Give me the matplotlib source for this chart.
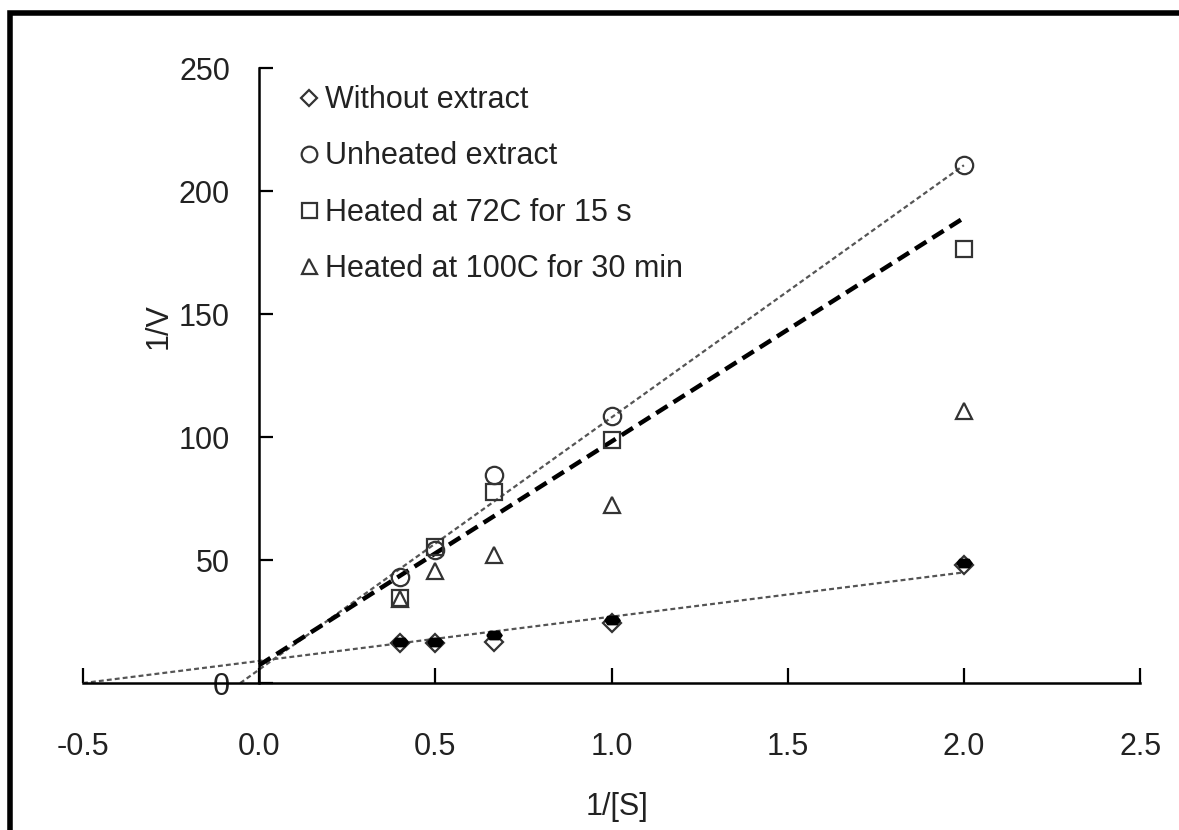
#--------------------- Importing the necessary libraries ---------------------------
import numpy as np
import matplotlib
matplotlib.use("Agg")
import matplotlib.pyplot as plt
from matplotlib.patches import Rectangle

plt.rcParams['font.family'] = ['Liberation Sans', 'DejaVu Sans']

#----------------------- Data --------------------------------------------------
inv_s = [0.4, 0.5, 0.667, 1.0, 2.0]            # 1/[S]
without_extract = [16.3, 16.3, 16.7, 24.4, 48.0]
unheated_extract = [43.1, 54.0, 84.5, 108.5, 210.6]
heated_72c = [34.6, 55.3, 77.6, 98.8, 176.4]
heated_100c = [34.0, 45.5, 52.0, 72.4, 110.6]
filled_points = [16.6, 16.6, 19.5, 25.6, 49.0]   # small black marks over the diamonds

series_labels = ['Without extract', 'Unheated extract',
                 'Heated at 72C for 15 s', 'Heated at 100C for 30 min']

# trend lines as drawn in the picture: (x start, x end, slope, intercept)
line_without = (-0.5, 2.0, 18.0, 9.0)
line_unheated = (-0.054, 2.0, 102.5, 5.5)
line_heated72 = (0.0, 2.0, 90.9, 7.3)

x_ticks = [-0.5, 0.0, 0.5, 1.0, 1.5, 2.0, 2.5]
y_ticks = [0, 50, 100, 150, 200, 250]

#----------------------- Figure ----------------------------
fig = plt.figure(figsize=(11.79, 8.30), dpi=100)
ax = fig.add_axes([0.0704, 0.177, 0.8966, 0.741])

def draw_line(spec, **kw):
    x0, x1, m, b = spec
    xs = np.array([x0, x1])
    ax.plot(xs, m * xs + b, **kw)

draw_line(line_without, color='#555555', lw=1.6, dashes=(2.2, 1.4), zorder=2)
draw_line(line_unheated, color='#555555', lw=1.6, dashes=(2.2, 1.4), zorder=2)
draw_line(line_heated72, color='black', lw=3.2, dashes=(3.0, 1.6), zorder=2)

edge = '#333333'
mk = dict(linestyle='none', markerfacecolor='none', markeredgecolor=edge,
          markeredgewidth=1.6, zorder=3)
ax.plot(inv_s, without_extract, marker='D', markersize=9, label=series_labels[0], **mk)
ax.plot(inv_s, unheated_extract, marker='o', markersize=12.5, label=series_labels[1], **mk)
ax.plot(inv_s, heated_72c, marker='s', markersize=12, label=series_labels[2], **mk)
ax.plot(inv_s, heated_100c, marker='^', markersize=12, label=series_labels[3], **mk)

hexa = [(-1, 0), (-0.6, 0.55), (0.6, 0.55), (1, 0), (0.6, -0.55), (-0.6, -0.55), (-1, 0)]
ax.plot(inv_s, filled_points, linestyle='none', marker=hexa, markersize=11,
        color='black', zorder=4)

# axes through the origin
ax.set_xlim(-0.5, 2.5)
ax.set_ylim(0, 250)
ax.spines['left'].set_position(('data', 0))
ax.spines['bottom'].set_position(('data', 0))
ax.spines['right'].set_visible(False)
ax.spines['top'].set_visible(False)
for s in ['left', 'bottom']:
    ax.spines[s].set_linewidth(1.8)

ax.set_xticks(x_ticks)
ax.set_xticklabels([f'{v:.1f}' for v in x_ticks])
ax.set_yticks(y_ticks)
ax.set_yticklabels([str(v) for v in y_ticks])
ax.tick_params(axis='x', direction='in', length=11, width=1.6, pad=35, labelsize=22)
ax.tick_params(axis='y', direction='in', length=10, width=1.6, pad=21, labelsize=22)
ax.tick_params(colors='black', which='both', labelcolor='#222222')

ax.set_xlabel('1/[S]', fontsize=22, color='#222222', va='center')
ax.xaxis.set_label_coords(0.505, -0.2016)
ax.set_ylabel('1/V', fontsize=22, color='#222222', va='center')
ax.yaxis.set_label_coords(0.072, 0.58)

leg = ax.legend(loc='upper left', bbox_to_anchor=(0.194, 0.992), frameon=False,
                fontsize=22, handlelength=0.6, handletextpad=0.2,
                labelspacing=0.86, markerscale=0.9, borderaxespad=0)
for t in leg.get_texts():
    t.set_color('#222222')

# outer frame of the picture
fig.patches.append(Rectangle((10 / 1179, -0.05), 1.1, 1 - 13 / 830 + 0.05,
                             transform=fig.transFigure, fill=False,
                             edgecolor='black', linewidth=4, clip_on=False))

plt.savefig('out.png', dpi=100)
